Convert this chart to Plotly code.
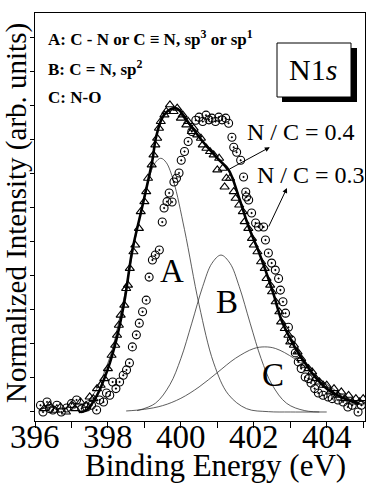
import plotly.graph_objects as go

# ---------------- data ----------------
# N/C = 0.4 : triangles
tri_E = [396.25, 396.4, 396.55, 396.7, 396.85, 397.0, 397.1, 397.25, 397.4,
         397.5, 397.6, 397.7, 397.8, 397.9, 398.0, 398.1, 398.2, 398.25, 398.3, 398.35,
         398.45, 398.5, 398.55, 398.6, 398.7, 398.75, 398.85, 398.9, 399.0, 399.05,
         399.1, 399.2, 399.25, 399.3, 399.35, 399.4, 399.45, 399.55, 399.6, 399.7,
         399.8, 399.9, 400.0, 400.05, 400.15, 400.2, 400.3, 400.35, 400.45, 400.55,
         400.6, 400.7, 400.8, 400.9, 401.0, 401.05, 401.15, 401.2, 401.25, 401.35,
         401.45, 401.5, 401.6, 401.7, 401.75, 401.85, 401.95, 402.0, 402.1, 402.2,
         402.3, 402.35, 402.45, 402.5, 402.6, 402.7, 402.75, 402.85, 402.95, 403.0,
         403.1, 403.2, 403.3, 403.4, 403.5, 403.6, 403.7, 403.8, 403.9, 404.0,
         404.1, 404.2, 404.3, 404.4, 404.5, 404.6, 404.7, 404.8, 404.9, 405.0]
tri_v = [0.01, 0.02, 0.005, 0.015, 0.0, 0.02, 0.01, 0.03, 0.02,
         0.045, 0.04, 0.07, 0.08, 0.10, 0.13, 0.17, 0.20, 0.23, 0.26, 0.29,
         0.32, 0.37, 0.38, 0.43, 0.48, 0.50, 0.55, 0.60, 0.63, 0.66,
         0.70, 0.74, 0.77, 0.80, 0.82, 0.85, 0.87, 0.89, 0.90, 0.92,
         0.90, 0.91, 0.88, 0.89, 0.86, 0.87, 0.84, 0.85, 0.83, 0.82,
         0.80, 0.79, 0.78, 0.77, 0.725, 0.76, 0.73, 0.674, 0.70, 0.70,
         0.66, 0.64, 0.62, 0.60, 0.57, 0.55, 0.52, 0.50, 0.48, 0.45,
         0.43, 0.40, 0.38, 0.36, 0.33, 0.30, 0.27, 0.25, 0.23, 0.21,
         0.20, 0.18, 0.16, 0.14, 0.13, 0.12, 0.10, 0.09, 0.08, 0.08,
         0.06, 0.07, 0.05, 0.06, 0.04, 0.05, 0.03, 0.04, 0.03, 0.04]

# N/C = 0.3 : circles
cir_E = [396.15, 396.22, 396.33, 396.4, 396.49, 396.6, 396.72, 396.87, 397.0, 397.14,
         397.28, 397.42, 397.55, 397.69, 397.77, 397.88, 397.96, 398.05, 398.13, 398.22,
         398.32, 398.42, 398.51, 398.59, 398.67, 398.78, 398.86, 398.95, 399.05, 399.13,
         399.22, 399.3, 399.41, 399.49, 399.54, 399.62, 399.68, 399.76, 399.81, 399.88,
         399.95, 400.01, 400.1, 400.2, 400.3, 400.41, 400.5, 400.6, 400.69, 400.77,
         400.85, 400.95, 401.04, 401.13, 401.23, 401.31, 401.4, 401.45, 401.53, 401.64,
         401.72, 401.78, 401.8, 401.86, 401.94, 402.05, 402.13, 402.27, 402.32, 402.4,
         402.49, 402.59, 402.68, 402.73, 402.8, 402.87, 402.95, 403.03, 403.14, 403.22,
         403.3, 403.41, 403.5, 403.57, 403.67, 403.77, 403.9, 404.04, 404.15, 404.31,
         404.45, 404.58, 404.7, 404.86, 404.95]
cir_v = [0.02, 0.0, 0.03, 0.01, 0.006, 0.02, 0.0, 0.012, 0.025, 0.036,
         0.01, 0.015, 0.02, 0.006, 0.036, 0.03, 0.057, 0.05, 0.09, 0.07,
         0.09, 0.11, 0.126, 0.147, 0.195, 0.231, 0.266, 0.30, 0.335, 0.404,
         0.455, 0.47, 0.485, 0.569, 0.611, 0.63, 0.656, 0.629, 0.689, 0.70,
         0.716, 0.754, 0.78, 0.81, 0.84, 0.874, 0.883, 0.87, 0.889, 0.875,
         0.88, 0.87, 0.883, 0.875, 0.88, 0.865, 0.823, 0.793, 0.778, 0.754,
         0.704, 0.659, 0.644, 0.635, 0.596, 0.566, 0.554, 0.554, 0.515, 0.476,
         0.446, 0.425, 0.40, 0.365, 0.33, 0.296, 0.254, 0.216, 0.177, 0.15,
         0.13, 0.105, 0.10, 0.087, 0.07, 0.057, 0.05, 0.045, 0.04, 0.036,
         0.03, 0.015, 0.02, 0.0, 0.02]

# fitted envelope (thick line)
fit_E = [397.2, 397.42, 397.7, 398.0, 398.23, 398.45, 398.67, 398.94, 399.22, 399.32,
         399.54, 399.87, 400.22, 400.6, 401.0, 401.31, 401.6, 401.86, 402.1, 402.32,
         402.55, 402.76, 403.0, 403.22, 403.45, 403.68, 404.0, 404.3, 404.58, 404.9]
fit_v = [0.0, 0.006, 0.05, 0.13, 0.216, 0.33, 0.485, 0.614, 0.754, 0.823,
         0.89, 0.91, 0.865, 0.81, 0.76, 0.725, 0.64, 0.554, 0.49, 0.425,
         0.35, 0.275, 0.22, 0.177, 0.14, 0.105, 0.07, 0.05, 0.036, 0.025]

# component peaks (thin lines)
A_E = [397.0, 397.5, 398.0, 398.4, 398.8, 399.1, 399.3, 399.45, 399.6, 399.8,
       400.1, 400.5, 400.9, 401.3, 401.8, 402.4, 403.0, 403.8]
A_v = [0.007, 0.039, 0.147, 0.321, 0.546, 0.691, 0.747, 0.76, 0.747, 0.691,
       0.546, 0.321, 0.147, 0.053, 0.010, 0.001, 0.0, 0.0]
B_E = [398.8, 399.3, 399.7, 400.0, 400.3, 400.6, 400.85, 401.1, 401.35, 401.6,
       401.9, 402.2, 402.5, 402.9, 403.4, 404.0]
B_v = [0.004, 0.026, 0.082, 0.160, 0.266, 0.376, 0.445, 0.47, 0.445, 0.376,
       0.266, 0.160, 0.082, 0.026, 0.004, 0.0]
C_E = [398.5, 399.0, 399.5, 400.0, 400.5, 401.0, 401.5, 402.0, 402.3, 402.6,
       403.1, 403.6, 404.1, 404.6, 405.0]
C_v = [0.003, 0.008, 0.019, 0.041, 0.075, 0.118, 0.161, 0.190, 0.195, 0.190,
       0.161, 0.118, 0.075, 0.041, 0.020]

x_ticks = [396, 398, 400, 402, 404]
x_labels = ["396", "398", "400", "402", "404"]

SERIF = "Liberation Serif, Times New Roman, Times, serif"

fig = go.Figure()
for ex, vy in [(A_E, A_v), (B_E, B_v), (C_E, C_v)]:
    fig.add_trace(go.Scatter(x=ex, y=vy, mode="lines",
                             line=dict(color="#333333", width=0.8, shape="spline"),
                             showlegend=False, hoverinfo="skip"))
fig.add_trace(go.Scatter(x=cir_E, y=cir_v, mode="markers",
                         marker=dict(symbol="circle-open-dot", size=8, color="black",
                                     line=dict(width=1.1, color="black")),
                         showlegend=False))
fig.add_trace(go.Scatter(x=tri_E, y=tri_v, mode="markers",
                         marker=dict(symbol="triangle-up-open", size=8, color="black",
                                     line=dict(width=1.1, color="black")),
                         showlegend=False))
fig.add_trace(go.Scatter(x=fit_E, y=fit_v, mode="lines",
                         line=dict(color="black", width=2.6, shape="spline"),
                         showlegend=False))

fig.update_layout(
    width=366, height=484,
    margin=dict(l=35, r=1, t=13, b=63),
    paper_bgcolor="white", plot_bgcolor="white",
    font=dict(family=SERIF, color="black"),
    showlegend=False,
    xaxis=dict(range=[396, 405.05], tickvals=x_ticks, showticklabels=False,
               ticks="outside", ticklen=6, tickwidth=1, tickcolor="black",
               minor=dict(dtick=1, ticks="outside", ticklen=6, tickcolor="black"),
               showline=True, linecolor="black", linewidth=1, mirror=True,
               showgrid=False, zeroline=False),
    yaxis=dict(range=[-0.027, 1.195], tick0=0, dtick=0.102,
               ticks="outside", ticklen=4, tickcolor="black",
               showticklabels=False,
               showline=True, linecolor="black", linewidth=1, mirror=True,
               showgrid=False, zeroline=False),
)

def px(xp):
    return (xp - 35) / 330.0

def py(yp):
    return (421 - yp) / 408.0

ann = []
# x tick labels
for tv, tl in zip(x_ticks, x_labels):
    ann.append(dict(text=tl, x=tv, y=py(437), xref="x", yref="paper", showarrow=False,
                    font=dict(size=33, family=SERIF), xanchor="center", yanchor="middle"))
ann.append(dict(text="Binding Energy (eV)", x=px(215), y=py(465), xref="paper", yref="paper",
                showarrow=False, font=dict(size=31, family=SERIF), xanchor="center", yanchor="middle"))
ann.append(dict(text="Normalized Intensity (arb. units)", x=px(16), y=py(213), xref="paper", yref="paper",
                showarrow=False, textangle=-90, font=dict(size=29, family=SERIF),
                xanchor="center", yanchor="middle"))
legend_lines = [("<b>A: C - N or C \u2261 N, sp<sup>3</sup> or sp<sup>1</sup></b>", 38),
                ("<b>B: C = N, sp<sup>2</sup></b>", 68),
                ("<b>C: N-O</b>", 97)]
for t, yy in legend_lines:
    ann.append(dict(text=t, x=px(46), y=py(yy), xref="paper", yref="paper", showarrow=False,
                    font=dict(size=17, family=SERIF), xanchor="left", yanchor="middle"))
# peak letters
for t, xx, yy in [("A", 172, 271), ("B", 227, 302), ("C", 273, 375)]:
    ann.append(dict(text=t, x=px(xx), y=py(yy), xref="paper", yref="paper", showarrow=False,
                    font=dict(size=33, family=SERIF), xanchor="center", yanchor="middle"))
ann.append(dict(text="N / C = 0.4", x=px(245), y=py(132), xref="paper", yref="paper", showarrow=False,
                font=dict(size=24, family=SERIF), xanchor="left", yanchor="middle"))
ann.append(dict(text="N / C = 0.3", x=px(255), y=py(175), xref="paper", yref="paper", showarrow=False,
                font=dict(size=24, family=SERIF), xanchor="left", yanchor="middle"))
ann.append(dict(text="N1<i>s</i>", x=px(313), y=py(70), xref="paper", yref="paper", showarrow=False,
                font=dict(size=30, family=SERIF), xanchor="center", yanchor="middle"))
# arrows (head at x,y; tail at ax,ay) in data coordinates
ann.append(dict(x=402.44, y=0.793, ax=401.29, ay=0.725, xref="x", yref="y", axref="x", ayref="y",
                text="", showarrow=True, arrowhead=2, arrowsize=1, arrowwidth=1, arrowcolor="black"))
ann.append(dict(x=402.91, y=0.671, ax=402.39, ay=0.551, xref="x", yref="y", axref="x", ayref="y",
                text="", showarrow=True, arrowhead=2, arrowsize=1, arrowwidth=1, arrowcolor="black"))
fig.update_layout(annotations=ann)

# N1s box with drop shadow
fig.add_shape(type="rect", xref="paper", yref="paper", x0=px(282), x1=px(357), y0=py(102), y1=py(48),
              fillcolor="black", line=dict(width=0), layer="above")
fig.add_shape(type="rect", xref="paper", yref="paper", x0=px(277), x1=px(351), y0=py(97), y1=py(43),
              fillcolor="white", line=dict(color="black", width=1), layer="above")

fig.write_html("out.html")
